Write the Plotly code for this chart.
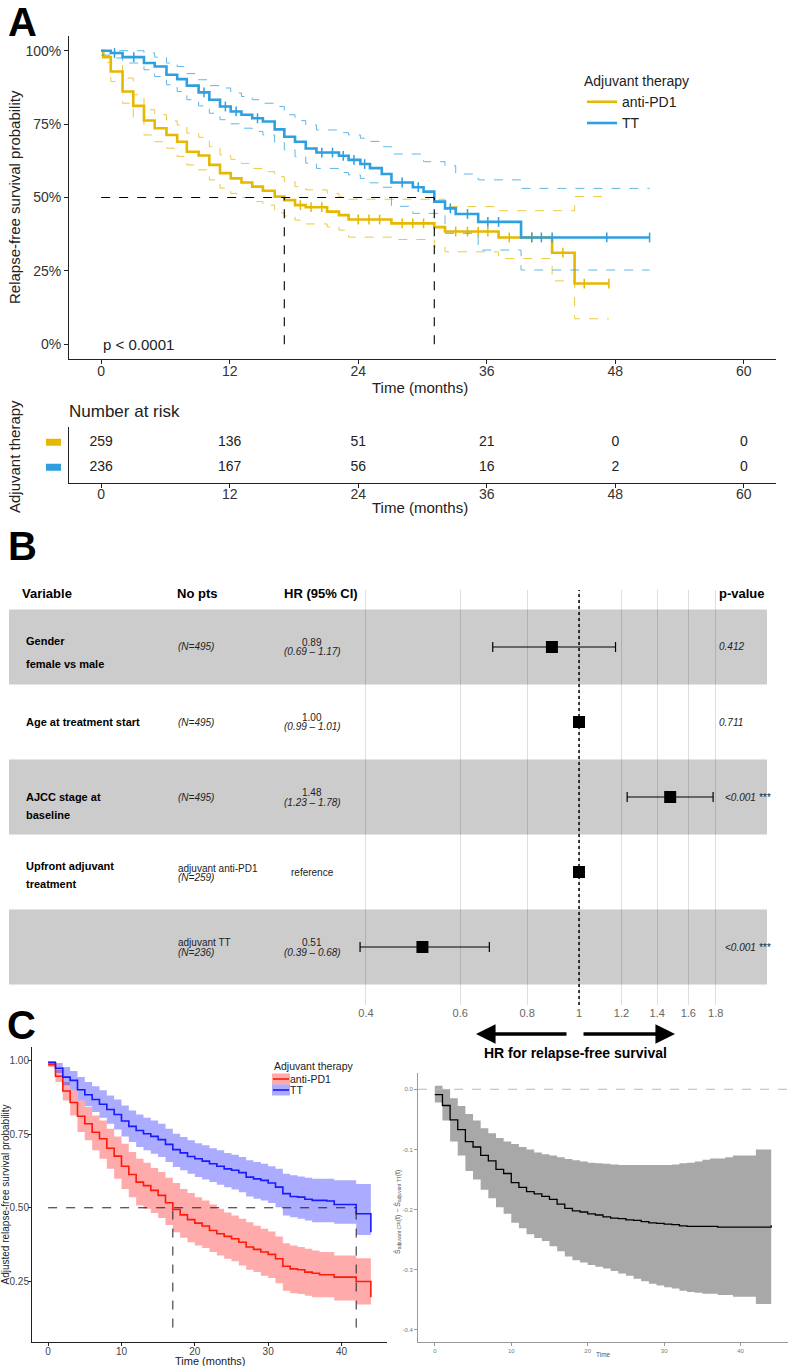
import plotly.graph_objects as go

W, H = 789, 1366
FONT = "Liberation Sans, Arial, sans-serif"
YELLOW = "#E7B800"
BLUE = "#2E9FDF"


def fx(p):
    return p / W


def fy(p):
    return 1 - p / H


# ---------------- A: Kaplan-Meier data
pd1_t = [0, 0.2, 0.9, 2.0, 3.0, 4.0, 5.0, 6.1, 7.1, 8.0, 9.1, 10.1, 11.1, 12.1, 13.1, 14.1, 15.1,
         16.2, 17.1, 18.1, 19.1, 21.1, 22.2, 23.1, 27.1, 31.1, 32.1, 37.1, 42.1, 44.2, 47.4]
pd1_s = [1.0, 0.978, 0.929, 0.861, 0.812, 0.762, 0.736, 0.713, 0.69, 0.656, 0.643, 0.611, 0.583,
         0.565, 0.551, 0.537, 0.523, 0.503, 0.491, 0.474, 0.467, 0.452, 0.44, 0.425, 0.412, 0.399,
         0.384, 0.364, 0.312, 0.207, 0.207]
pd1_up_t = [0, 0.9, 2, 3, 4, 5, 6.1, 7.1, 8, 9.1, 10.1, 11.1, 12.1, 13.1, 14.1, 15.1, 16.2, 17.1,
            18.1, 19.1, 21.1, 22.2, 23.1, 32.1, 37.1, 44.2, 47.4]
pd1_up_s = [1.0, 0.99, 0.907, 0.85, 0.799, 0.782, 0.761, 0.747, 0.719, 0.705, 0.673, 0.645, 0.63,
            0.616, 0.599, 0.588, 0.571, 0.554, 0.537, 0.526, 0.514, 0.503, 0.494, 0.469, 0.455,
            0.503, 0.503]
pd1_lo_t = [0, 0.2, 0.9, 2, 3, 4, 5, 6.1, 7.1, 8, 9.1, 10.1, 11.1, 12.1, 13.1, 14.1, 15.1, 16.2,
            17.1, 18.1, 19.1, 21.1, 22.2, 23.1, 27.1, 31.1, 32.1, 37.1, 42.1, 44.2, 47.4]
pd1_lo_s = [1.0, 0.96, 0.895, 0.821, 0.773, 0.713, 0.69, 0.668, 0.64, 0.611, 0.594, 0.56, 0.532,
            0.514, 0.5, 0.486, 0.474, 0.448, 0.437, 0.423, 0.41, 0.4, 0.389, 0.365, 0.357, 0.332,
            0.315, 0.292, 0.216, 0.087, 0.087]

tt_t = [0, 0.9, 2.0, 4.0, 5.0, 6.1, 7.1, 8.0, 9.1, 10.1, 11.1, 12.1, 13.1, 14.1, 15.1, 16.2, 17.1,
        18.1, 19.1, 20.1, 22.2, 23.1, 24.2, 25.1, 26.2, 27.1, 29.1, 30.1, 31.1, 32.1, 33.1, 35.2,
        39.2, 51.2]
tt_s = [1.0, 0.992, 0.978, 0.958, 0.946, 0.918, 0.903, 0.881, 0.858, 0.833, 0.81, 0.793, 0.782,
        0.77, 0.759, 0.732, 0.707, 0.69, 0.667, 0.653, 0.642, 0.628, 0.614, 0.6, 0.58, 0.551,
        0.535, 0.52, 0.486, 0.463, 0.444, 0.417, 0.364, 0.364]
tt_up_t = [0, 4, 5, 6.1, 7.1, 8, 9.1, 10.1, 11.1, 12.1, 13.1, 14.1, 15.1, 16.2, 17.1, 18.1, 19.1,
           20.1, 22.2, 23.1, 24.2, 25.1, 26.2, 27.1, 30.1, 32.1, 33.1, 35.2, 39.2, 51.2]
tt_up_s = [1.0, 0.992, 0.978, 0.958, 0.946, 0.922, 0.901, 0.881, 0.873, 0.856, 0.844, 0.833,
           0.821, 0.81, 0.782, 0.762, 0.747, 0.73, 0.721, 0.713, 0.702, 0.691, 0.673, 0.648,
           0.622, 0.608, 0.58, 0.56, 0.531, 0.531]
tt_lo_t = [0, 0.9, 2, 4, 5, 6.1, 7.1, 8, 9.1, 10.1, 11.1, 12.1, 13.1, 14.1, 15.1, 16.2, 17.1,
           18.1, 19.1, 20.1, 22.2, 23.1, 24.2, 25.1, 26.2, 27.1, 29.1, 32.1, 35.2, 39.2, 51.2]
tt_lo_s = [0.985, 0.975, 0.958, 0.935, 0.912, 0.884, 0.861, 0.833, 0.812, 0.787, 0.765, 0.751,
           0.736, 0.725, 0.713, 0.687, 0.662, 0.639, 0.617, 0.599, 0.585, 0.577, 0.565, 0.55,
           0.535, 0.47, 0.446, 0.378, 0.321, 0.253, 0.253]

pd1_censor = [18.6, 19.6, 20.6, 24.0, 25.0, 26.0, 28.1, 29.1, 30.1, 33.1, 34.2, 35.2, 36.1, 38.1,
              40.2, 43.1, 45.1, 47.4]
tt_censor = [1.25, 3.05, 9.6, 11.6, 12.6, 14.6, 20.6, 21.6, 22.6, 23.6, 24.6, 28.1, 29.6, 32.6,
             34.2, 36.1, 37.1, 40.2, 41.1, 42.1, 47.2, 51.2]
medians_a = [17.1, 31.1]

risk_times = [0, 12, 24, 36, 48, 60]
risk_pd1 = [259, 136, 51, 21, 0, 0]
risk_tt = [236, 167, 56, 16, 2, 0]

# ---------------- B: forest plot
row_pos = [5, 4, 3, 2, 1]
hr = [0.89, 1.00, 1.48, 1.00, 0.51]
hr_lo = [0.69, 0.99, 1.23, 1.00, 0.39]
hr_hi = [1.17, 1.01, 1.78, 1.00, 0.68]
hr_text = ["0.89", "1.00", "1.48", "", "0.51"]
ci_text = ["(0.69 – 1.17)", "(0.99 – 1.01)", "(1.23 – 1.78)", "", "(0.39 – 0.68)"]
pvals = ["0.412", "0.711", "<0.001 ***", "", "<0.001 ***"]
var_lines = [["Gender", "female vs male"], ["Age at treatment start"], ["AJCC stage at", "baseline"],
             ["Upfront adjuvant", "treatment"], []]
n_labels = ["(N=495)", "(N=495)", "(N=495)", "(N=259)", "(N=236)"]
level_labels = ["", "", "", "adjuvant anti-PD1", "adjuvant TT"]
hr_ticks = [0.4, 0.6, 0.8, 1, 1.2, 1.4, 1.6, 1.8]

# ---------------- C: adjusted curves
c_t = list(range(0, 45))
red_s = [0.985, 0.946, 0.896, 0.857, 0.81, 0.785, 0.756, 0.734, 0.702, 0.675, 0.641, 0.613, 0.587,
         0.575, 0.559, 0.542, 0.517, 0.494, 0.476, 0.46, 0.448, 0.438, 0.423, 0.412, 0.403, 0.395,
         0.383, 0.367, 0.359, 0.35, 0.342, 0.327, 0.302, 0.293, 0.29, 0.282, 0.278, 0.273, 0.273,
         0.265, 0.265, 0.265, 0.25, 0.25, 0.197]
red_up = [0.994, 0.968, 0.926, 0.898, 0.864, 0.842, 0.813, 0.796, 0.768, 0.742, 0.717, 0.689,
          0.666, 0.653, 0.635, 0.621, 0.602, 0.584, 0.564, 0.55, 0.536, 0.525, 0.511, 0.497, 0.484,
          0.474, 0.463, 0.451, 0.439, 0.429, 0.42, 0.403, 0.38, 0.372, 0.367, 0.361, 0.355, 0.35,
          0.35, 0.338, 0.338, 0.338, 0.329, 0.329, 0.329]
red_lo = [0.977, 0.926, 0.864, 0.813, 0.757, 0.729, 0.695, 0.666, 0.632, 0.598, 0.564, 0.536,
          0.508, 0.497, 0.482, 0.465, 0.442, 0.417, 0.398, 0.383, 0.372, 0.364, 0.35, 0.338, 0.327,
          0.319, 0.304, 0.29, 0.282, 0.27, 0.262, 0.244, 0.219, 0.21, 0.208, 0.202, 0.197, 0.197,
          0.197, 0.186, 0.186, 0.186, 0.172, 0.172, 0.172]
blue_s = [0.993, 0.973, 0.943, 0.932, 0.9, 0.883, 0.867, 0.851, 0.833, 0.816, 0.794, 0.776, 0.762,
          0.751, 0.742, 0.731, 0.715, 0.697, 0.686, 0.674, 0.666, 0.658, 0.649, 0.641, 0.632,
          0.627, 0.619, 0.604, 0.598, 0.593, 0.584, 0.57, 0.548, 0.538, 0.536, 0.529, 0.525, 0.525,
          0.523, 0.511, 0.511, 0.511, 0.48, 0.48, 0.417]
blue_up = [0.997, 0.991, 0.977, 0.964, 0.943, 0.926, 0.912, 0.898, 0.881, 0.867, 0.847, 0.83,
           0.816, 0.805, 0.796, 0.785, 0.768, 0.751, 0.74, 0.729, 0.719, 0.712, 0.702, 0.695,
           0.686, 0.68, 0.672, 0.661, 0.655, 0.649, 0.641, 0.632, 0.615, 0.61, 0.606, 0.602, 0.598,
           0.598, 0.598, 0.593, 0.593, 0.593, 0.581, 0.581, 0.581]
blue_lo = [0.986, 0.957, 0.915, 0.898, 0.864, 0.844, 0.825, 0.805, 0.785, 0.765, 0.742, 0.723,
           0.706, 0.695, 0.683, 0.672, 0.655, 0.638, 0.627, 0.615, 0.604, 0.596, 0.587, 0.578,
           0.57, 0.562, 0.553, 0.538, 0.531, 0.525, 0.516, 0.502, 0.474, 0.468, 0.463, 0.457,
           0.451, 0.451, 0.451, 0.446, 0.446, 0.446, 0.408, 0.408, 0.408]
medians_c = [17, 42]

diff_s = [-0.009, -0.027, -0.051, -0.067, -0.087, -0.096, -0.11, -0.119, -0.133, -0.14, -0.155,
          -0.163, -0.17, -0.174, -0.178, -0.183, -0.191, -0.198, -0.202, -0.204, -0.207, -0.209,
          -0.212, -0.214, -0.215, -0.217, -0.218, -0.22, -0.222, -0.223, -0.224, -0.225, -0.227,
          -0.228, -0.228, -0.228, -0.228, -0.229, -0.229, -0.229, -0.229, -0.229, -0.229, -0.229,
          -0.226]
diff_up = [0.006, 0.0, -0.015, -0.028, -0.041, -0.052, -0.065, -0.073, -0.081, -0.087, -0.091,
           -0.096, -0.1, -0.105, -0.108, -0.11, -0.113, -0.116, -0.118, -0.12, -0.122, -0.123,
           -0.124, -0.125, -0.126, -0.126, -0.126, -0.126, -0.126, -0.126, -0.126, -0.125, -0.123,
           -0.122, -0.12, -0.117, -0.115, -0.115, -0.113, -0.11, -0.11, -0.11, -0.1, -0.1, -0.1]
diff_lo = [-0.022, -0.052, -0.087, -0.11, -0.136, -0.15, -0.167, -0.181, -0.196, -0.207, -0.222,
           -0.231, -0.241, -0.247, -0.252, -0.261, -0.269, -0.278, -0.284, -0.288, -0.292, -0.295,
           -0.298, -0.302, -0.306, -0.31, -0.315, -0.319, -0.323, -0.326, -0.329, -0.331, -0.335,
           -0.337, -0.338, -0.34, -0.34, -0.342, -0.342, -0.345, -0.345, -0.345, -0.357, -0.357,
           -0.357]


def step_at(ts, ss, t):
    v = ss[0]
    for a, b in zip(ts, ss):
        if a <= t:
            v = b
    return v


fig = go.Figure()

# ---- A curves
for name, col, t, s, ut, us, lt, ls, cens in [
        ("anti-PD1", YELLOW, pd1_t, pd1_s, pd1_up_t, pd1_up_s, pd1_lo_t, pd1_lo_s, pd1_censor),
        ("TT", BLUE, tt_t, tt_s, tt_up_t, tt_up_s, tt_lo_t, tt_lo_s, tt_censor)]:
    for bt, bs in [(ut, us), (lt, ls)]:
        fig.add_trace(go.Scatter(x=bt, y=bs, mode="lines", line=dict(color=col, width=1, dash="dash", shape="hv"),
                                 opacity=0.75, showlegend=False, xaxis="x", yaxis="y"))
    fig.add_trace(go.Scatter(x=t, y=s, mode="lines", name=name, line=dict(color=col, width=2.6, shape="hv"),
                             xaxis="x", yaxis="y", legend="legend"))
    fig.add_trace(go.Scatter(x=cens, y=[step_at(t, s, c) for c in cens], mode="markers",
                             marker=dict(symbol="line-ns-open", size=7, color=col, line=dict(color=col, width=1.5)),
                             showlegend=False, xaxis="x", yaxis="y"))

# median lines A
fig.add_trace(go.Scatter(x=[0, max(medians_a)], y=[0.5, 0.5], mode="lines", line=dict(color="black", width=1.1, dash="dash"),
                         showlegend=False, xaxis="x", yaxis="y"))
for m in medians_a:
    fig.add_trace(go.Scatter(x=[m, m], y=[0, 0.5], mode="lines", line=dict(color="black", width=1.1, dash="dash"),
                             showlegend=False, xaxis="x", yaxis="y"))

# risk table
for yv, vals in [(2, risk_pd1), (1, risk_tt)]:
    fig.add_trace(go.Scatter(x=risk_times, y=[yv] * len(vals), mode="text", text=[str(v) for v in vals],
                             textfont=dict(size=14, color="#222", family=FONT), showlegend=False,
                             xaxis="x2", yaxis="y2"))

# ---- B forest
fig.add_trace(go.Scatter(
    x=hr, y=row_pos, mode="markers",
    marker=dict(symbol="square", size=12, color="black"),
    error_x=dict(type="data", symmetric=False,
                 array=[h - v for h, v in zip(hr_hi, hr)],
                 arrayminus=[v - l for v, l in zip(hr, hr_lo)],
                 color="black", thickness=1.2, width=5),
    showlegend=False, xaxis="x3", yaxis="y3"))

# ---- C left
C_COLS = {"anti-PD1": ("#FF1A0A", "rgba(255,0,0,0.33)"), "TT": ("#1A1AFF", "rgba(0,0,255,0.33)")}
for name, s, up, lo in [("anti-PD1", red_s, red_up, red_lo), ("TT", blue_s, blue_up, blue_lo)]:
    fig.add_trace(go.Scatter(x=c_t, y=up, mode="lines", line=dict(width=0, shape="hv"),
                             showlegend=False, xaxis="x4", yaxis="y4"))
    fig.add_trace(go.Scatter(x=c_t, y=lo, mode="lines", line=dict(width=0, shape="hv"), fill="tonexty",
                             fillcolor=C_COLS[name][1], showlegend=False, xaxis="x4", yaxis="y4"))
for name, s in [("anti-PD1", red_s), ("TT", blue_s)]:
    fig.add_trace(go.Scatter(x=c_t, y=s, mode="lines", line=dict(color=C_COLS[name][0], width=1.6, shape="hv"),
                             showlegend=False, xaxis="x4", yaxis="y4"))
fig.add_trace(go.Scatter(x=[0, max(medians_c)], y=[0.5, 0.5], mode="lines",
                         line=dict(color="#222", width=1, dash="dash"), showlegend=False, xaxis="x4", yaxis="y4"))
for m in medians_c:
    fig.add_trace(go.Scatter(x=[m, m], y=[0.094, 0.5], mode="lines", line=dict(color="#222", width=1, dash="dash"),
                             showlegend=False, xaxis="x4", yaxis="y4"))

# ---- C right
fig.add_trace(go.Scatter(x=c_t, y=diff_up, mode="lines", line=dict(width=0, shape="hv"),
                         showlegend=False, xaxis="x5", yaxis="y5"))
fig.add_trace(go.Scatter(x=c_t, y=diff_lo, mode="lines", line=dict(width=0, shape="hv"), fill="tonexty",
                         fillcolor="#A8A8A8", showlegend=False, xaxis="x5", yaxis="y5"))
fig.add_trace(go.Scatter(x=c_t, y=diff_s, mode="lines", line=dict(color="black", width=1.3, shape="hv"),
                         showlegend=False, xaxis="x5", yaxis="y5"))

axis_common = dict(showgrid=False, zeroline=False, showline=True, linecolor="#222", linewidth=1,
                   ticks="outside", ticklen=4, tickcolor="#222")

fig.update_layout(
    width=W, height=H, margin=dict(l=0, r=0, t=0, b=0),
    paper_bgcolor="white", plot_bgcolor="white",
    font=dict(family=FONT, color="#222"),
    xaxis=dict(domain=[fx(69), fx(776)], range=[-3, 63], tickvals=risk_times, anchor="y",
               ticklabelstandoff=-5, tickfont=dict(size=14, color="#333"), **axis_common),
    yaxis=dict(domain=[fy(359), fy(36)], range=[-0.05, 1.05], tickvals=[0, 0.25, 0.5, 0.75, 1],
               ticktext=["0%", "25%", "50%", "75%", "100%"], anchor="x",
               tickfont=dict(size=14, color="#333"), **axis_common),
    xaxis2=dict(domain=[fx(69), fx(776)], range=[-3, 63], tickvals=risk_times, anchor="y2",
                ticklabelstandoff=-6, tickfont=dict(size=14, color="#333"), **axis_common),
    yaxis2=dict(domain=[fy(483), fy(427)], range=[0.37, 2.61], showticklabels=False, anchor="x2",
                showgrid=False, zeroline=False, showline=True, linecolor="#222", ticks=""),
    xaxis3=dict(domain=[fx(340), fx(760)], type="log", range=[-0.4464, 0.338], tickvals=hr_ticks,
                ticktext=[str(v) for v in hr_ticks], showgrid=True, gridcolor="rgba(0,0,0,0.13)",
                gridwidth=1, zeroline=False, showline=False, ticks="", anchor="y3",
                tickfont=dict(size=11, color="#666")),
    yaxis3=dict(domain=[fy(1005), fy(590)], range=[0.227, 5.76], visible=False, anchor="x3"),
    xaxis4=dict(domain=[fx(32), fx(387)], range=[-2.2, 46.2], tickvals=[0, 10, 20, 30, 40], anchor="y4",
                ticklabelstandoff=-3, tickfont=dict(size=10, color="#444"), **dict(axis_common, ticklen=3)),
    yaxis4=dict(domain=[fy(1342), fy(1047)], range=[0.045, 1.045], tickvals=[0.25, 0.5, 0.75, 1.0],
                ticktext=["0.25", "0.50", "0.75", "1.00"], anchor="x4", ticklabelstandoff=-3,
                tickfont=dict(size=10, color="#444"), **dict(axis_common, ticklen=3)),
    xaxis5=dict(domain=[fx(418), fx(788)], range=[-2.2, 46.2], tickvals=[0, 10, 20, 30, 40], anchor="y5",
                tickfont=dict(size=6, color="#777"), showgrid=False, zeroline=False, showline=True,
                linecolor="#999", ticks="outside", ticklen=3, tickcolor="#999"),
    yaxis5=dict(domain=[fy(1342), fy(1073)], range=[-0.42, 0.027], tickvals=[0, -0.1, -0.2, -0.3, -0.4],
                ticktext=["0.0", "-0.1", "-0.2", "-0.3", "-0.4"], anchor="x5",
                tickfont=dict(size=6, color="#777"), showgrid=False, zeroline=False, showline=True,
                linecolor="#999", ticks="outside", ticklen=3, tickcolor="#999"),
    legend=dict(x=fx(582), y=fy(68), xanchor="left", yanchor="top", bgcolor="rgba(0,0,0,0)",
                traceorder="normal",
                title=dict(text="Adjuvant therapy", font=dict(size=14, color="#222")),
                font=dict(size=14, color="#222"), itemwidth=30, tracegroupgap=0),
)

shapes = []
# forest bands
for r in [5, 3, 1]:
    shapes.append(dict(type="rect", xref="paper", yref="y3", x0=fx(9), x1=fx(767), y0=r - 0.5, y1=r + 0.5,
                       fillcolor="#CCCCCC", line=dict(width=0), layer="below"))
shapes.append(dict(type="line", xref="x3", yref="y3 domain", x0=1, x1=1, y0=0, y1=1,
                   line=dict(color="black", width=1.5, dash="dot")))
# risk table colour keys
for yv, col in [(2, YELLOW), (1, BLUE)]:
    shapes.append(dict(type="rect", xref="paper", yref="y2", x0=fx(46), x1=fx(61), y0=yv - 0.14, y1=yv + 0.14,
                       fillcolor=col, line=dict(width=0)))
# zero line in C right
shapes.append(dict(type="line", xref="x5 domain", yref="y5", x0=0, x1=1, y0=0, y1=0,
                   line=dict(color="#BBBBBB", width=1, dash="dash")))
# C left legend keys
for ky, name in [(1079, "anti-PD1"), (1090, "TT")]:
    shapes.append(dict(type="rect", xref="paper", yref="paper", x0=fx(272), x1=fx(290), y0=fy(ky + 5.5),
                       y1=fy(ky - 5.5), fillcolor=C_COLS[name][1], line=dict(width=0)))
    shapes.append(dict(type="line", xref="paper", yref="paper", x0=fx(273), x1=fx(289), y0=fy(ky), y1=fy(ky),
                       line=dict(color=C_COLS[name][0], width=1.6)))
fig.update_layout(shapes=shapes)

ann = []


def text(x, y, s, size, bold=False, italic=False, anchor="center", color="#222", angle=0, xref="paper",
         yref="paper"):
    if bold:
        s = "<b>" + s + "</b>"
    if italic:
        s = "<i>" + s + "</i>"
    ann.append(dict(x=x, y=y, xref=xref, yref=yref, text=s, showarrow=False, xanchor=anchor, yanchor="middle",
                    font=dict(size=size, color=color, family=FONT), textangle=angle))


def ptext(px, py, s, size, **kw):
    text(fx(px), fy(py), s, size, **kw)


# panel letters
ptext(6, 22, "A", 40, bold=True, anchor="left", color="black")
ptext(6, 546, "B", 40, bold=True, anchor="left", color="black")
ptext(5, 1025, "C", 40, bold=True, anchor="left", color="black")

# A titles
ptext(14, 197, "Relapse-free survival probability", 15, angle=-90)
ptext(420, 387, "Time (months)", 15)
text(0, 0, "p < 0.0001", 15, anchor="left", xref="x", yref="y")
ptext(67, 411, "Number at risk", 17, anchor="left")
ptext(14, 457, "Adjuvant therapy", 15, angle=-90)
ptext(420, 508, "Time (months)", 15)

# B header
ptext(20, 594, "Variable", 13, bold=True, anchor="left", color="black")
ptext(175, 594, "No pts", 13, bold=True, anchor="left", color="black")
ptext(282, 594, "HR (95% CI)", 13, bold=True, anchor="left", color="black")
ptext(767, 594, "p-value", 13, bold=True, anchor="right", color="black")

row_px = [647, 722, 797, 872, 947]
var_offsets = [[-6, 17], [0], [0, 18], [-6, 12], []]
for i, cy in enumerate(row_px):
    for line, off in zip(var_lines[i], var_offsets[i]):
        ptext(24, cy + off, line, 11, bold=True, anchor="left", color="black")
    if level_labels[i]:
        ptext(176, cy - 4, level_labels[i], 10, anchor="left")
        ptext(176, cy + 5, n_labels[i], 10, italic=True, anchor="left")
    else:
        ptext(176, cy, n_labels[i], 10, italic=True, anchor="left")
    if hr_text[i]:
        ptext(312, cy - 4.5, hr_text[i], 10)
        ptext(312, cy + 5, ci_text[i], 10, italic=True)
    else:
        ptext(312, cy, "reference", 10)
    if pvals[i]:
        ptext(723 if pvals[i].startswith("<") else 717, cy, pvals[i], 10, italic=True, anchor="left")

# HR arrows
ann.append(dict(x=fx(476), y=fy(1034), xref="paper", yref="paper", ax=92, ay=0, showarrow=True,
                arrowhead=2, arrowsize=1.15, arrowwidth=3.4, arrowcolor="black", text=""))
ann.append(dict(x=fx(675), y=fy(1034), xref="paper", yref="paper", ax=-93, ay=0, showarrow=True,
                arrowhead=2, arrowsize=1.15, arrowwidth=3.4, arrowcolor="black", text=""))
ptext(575, 1053, "HR for relapse-free survival", 14, bold=True, color="black")

# C titles and legend
ptext(4.5, 1195, "Adjusted relapse-free survival probability", 10, angle=-90)
ptext(210, 1361, "Time (months)", 11)
ptext(272, 1066, "Adjuvant therapy", 10.5, anchor="left")
ptext(288, 1079, "anti-PD1", 10.5, anchor="left")
ptext(288, 1090, "TT", 10.5, anchor="left")
ptext(397, 1212, "Ŝ<sub>adjuvant CPI</sub>(t) − Ŝ<sub>adjuvant TT</sub>(t)", 7, angle=-90, color="#555")
ptext(603, 1354, "Time", 6.5, color="#555")

fig.update_layout(annotations=ann)

fig.write_html("out.html", config={"displayModeBar": False},
               post_script="document.body.style.margin='0px';")
